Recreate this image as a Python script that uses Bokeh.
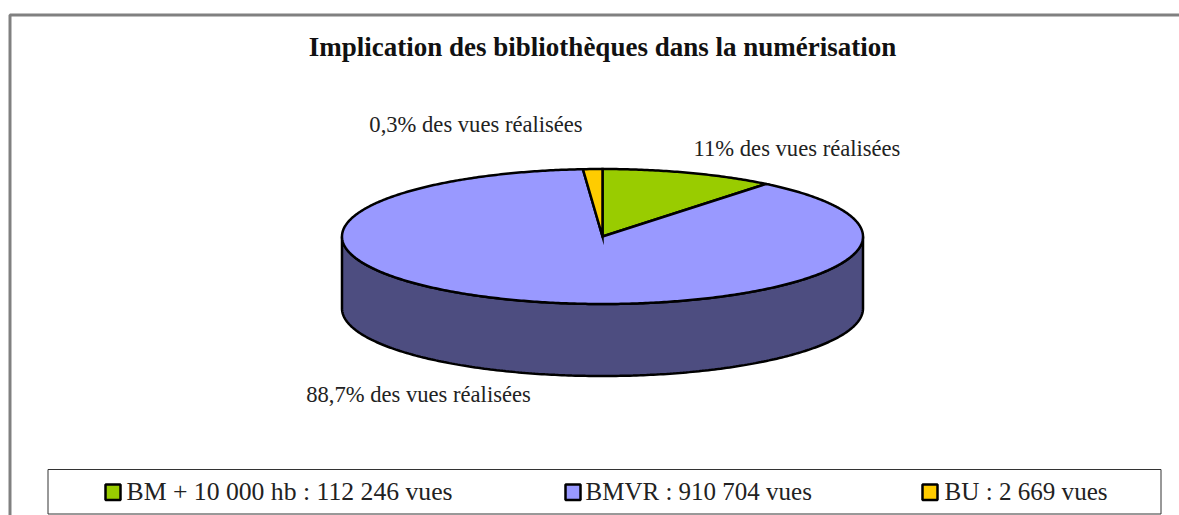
import numpy as np
from bokeh.plotting import figure
from bokeh.models import Range1d, ColumnDataSource
from bokeh.core.properties import value
from bokeh.embed import file_html
from bokeh.resources import INLINE

title = "Implication des bibliothèques dans la numérisation"
legend_labels = ["BM + 10 000 hb : 112 246 vues", "BMVR : 910 704 vues", "BU : 2 669 vues"]
# shares of the pie as drawn in the picture (percent)
drawn_shares = [10.8, 88.0, 1.2]
slice_labels = ["11% des vues réalisées", "88,7% des vues réalisées", "0,3% des vues réalisées"]
colors = ["#99CC00", "#9999FF", "#FFCC00"]
side_color = "#4D4D80"

FONT = value("Liberation Serif")
W, H = 1179, 515
p = figure(width=W, height=H, output_backend="svg", toolbar_location=None,
           x_range=Range1d(0, W), y_range=Range1d(H, 0),
           min_border=0, outline_line_color=None, background_fill_color="white")
p.axis.visible = False
p.grid.visible = False

# chart frame (open to the right and bottom in the picture)
p.line([9.5, 9.5, 1179], [515, 14.5, 14.5], line_color="#808080", line_width=3)

# pie
cx, cy, rx, ry, depth = 602, 236, 260.5, 67.5, 72

# side wall
t = np.linspace(np.pi / 2, 3 * np.pi / 2, 241)
ex, ey = cx + rx * np.sin(t), cy - ry * np.cos(t)
sx = np.concatenate([ex, ex[::-1]])
sy = np.concatenate([ey, ey[::-1] + depth])
p.patch(sx, sy, fill_color=side_color, line_color="black", line_width=2.5)

# top slices, clockwise from 12 o'clock
start = 0.0
for share, col in zip(drawn_shares, colors):
    end = start + share / 100 * 2 * np.pi
    a = np.linspace(start, end, max(3, int(share * 6)))
    xs = np.concatenate([[cx], cx + rx * np.sin(a), [cx]])
    ys = np.concatenate([[cy], cy - ry * np.cos(a), [cy]])
    p.patch(xs, ys, fill_color=col, line_color="black", line_width=2.5, line_join="miter")
    start = end

# title and slice labels
p.text([602], [46.5], text=[title], text_font=FONT, text_font_style="bold", text_font_size="27px",
       text_color="#111111", text_align="center", text_baseline="middle")
lx = [796.5, 418, 475.5]
ly = [147.5, 393.5, 123.5]
p.text(lx, ly, text=slice_labels, text_font=FONT, text_font_size="22.6px", text_color="#222222",
       text_align="center", text_baseline="middle")

# legend box
p.quad(left=[47.5], right=[1160.5], top=[469], bottom=[513.5], fill_color="white",
       line_color="#333333", line_width=1)
mx = [104, 564, 921]
tx = [126, 585, 944]
p.quad(left=[m + 1 for m in mx], right=[m + 16 for m in mx], top=[484] * 3, bottom=[499.5] * 3,
       fill_color=colors, line_color="black", line_width=2.5)
legend_src = ColumnDataSource(dict(x=tx, y=[491] * 3, text=legend_labels,
                                   size=["25.7px", "25px", "25.1px"]))
p.text("x", "y", text="text", source=legend_src, text_font=FONT, text_font_size="size",
       text_color="#222222", text_align="left", text_baseline="middle")

open("out.html", "w").write(file_html(p, INLINE))
